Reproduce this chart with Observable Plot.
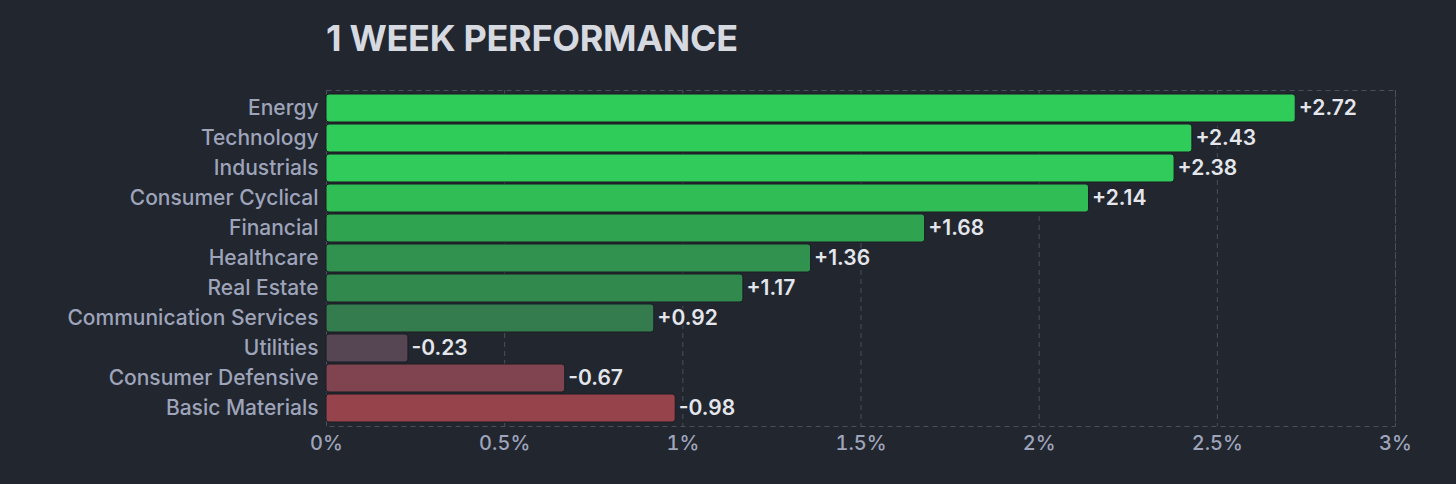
<!DOCTYPE html>
<html>
<head>
<meta charset="utf-8">
<script src="https://cdn.jsdelivr.net/npm/d3@7"></script>
<script src="https://cdn.jsdelivr.net/npm/@observablehq/plot@0.6"></script>
<style>
  html, body { margin: 0; padding: 0; background: #22262f; }
  body { width: 1456px; height: 484px; overflow: hidden; font-family: Inter, "Noto Sans", sans-serif; }
  #title { height: 80px; box-sizing: border-box; padding-left: 326px; padding-top: 18px;
           font-size: 36px; font-weight: 700; color: #d6d9e0; letter-spacing: -0.3px; line-height: 40px; }
</style>
</head>
<body>
<div id="title">1 WEEK PERFORMANCE</div>
<div id="chart"></div>
<script>
const sectors = ["Energy", "Technology", "Industrials", "Consumer Cyclical", "Financial", "Healthcare",
  "Real Estate", "Communication Services", "Utilities", "Consumer Defensive", "Basic Materials"];
const changes = [2.72, 2.43, 2.38, 2.14, 1.68, 1.36, 1.17, 0.92, -0.23, -0.67, -0.98];
const xTicks = [0, 0.5, 1, 1.5, 2, 2.5, 3];

const data = sectors.map((name, i) => ({name, value: changes[i], size: Math.abs(changes[i])}));
const fmt = v => (v > 0 ? "+" : "") + v.toFixed(2);

const chart = Plot.plot({
  width: 1456,
  height: 404,
  marginTop: 10,
  marginBottom: 58,
  marginLeft: 326,
  marginRight: 61,
  style: {background: "transparent", fontFamily: "Inter, 'Noto Sans', sans-serif"},
  x: {domain: [0, 3], ticks: xTicks, tickFormat: d => d + "%", label: null, tickSize: 0, tickPadding: 9},
  y: {domain: sectors, label: null, tickSize: 0, tickPadding: 8, padding: 0.07},
  color: {
    type: "linear",
    domain: [-2.4, -1.6, -0.8, 0, 0.8, 1.6, 2.4],
    range: ["#f63538", "#bf4045", "#8b444e", "#414554", "#35764e", "#2f9e4f", "#30cc5a"],
    clamp: true
  },
  marks: [
    Plot.gridX(xTicks, {stroke: "#4a4f5c", strokeOpacity: 1, strokeDasharray: "5,4", strokeWidth: 1}),
    Plot.frame({stroke: "#4a4f5c", strokeDasharray: "5,4", strokeWidth: 1}),
    Plot.barX(data, {x: "size", y: "name", fill: "value", rx: 3, stroke: "#1a1d23", strokeWidth: 1}),
    Plot.text(data, {x: "size", y: "name", text: d => fmt(d.value), textAnchor: "start", dx: 3,
      fill: "#e4e6ec", stroke: "#22262f", strokeWidth: 3, fontSize: 21, fontWeight: 600}),
    Plot.axisY({tickSize: 0, tickPadding: 8, fontSize: 21, fill: "#9ea4ba", fontWeight: 500}),
    Plot.axisX(xTicks, {tickSize: 0, tickPadding: 9, fontSize: 20, fill: "#9ea4ba", fontWeight: 500,
      tickFormat: d => d + "%"})
  ]
});
document.getElementById("chart").appendChild(chart);
</script>
</body>
</html>
